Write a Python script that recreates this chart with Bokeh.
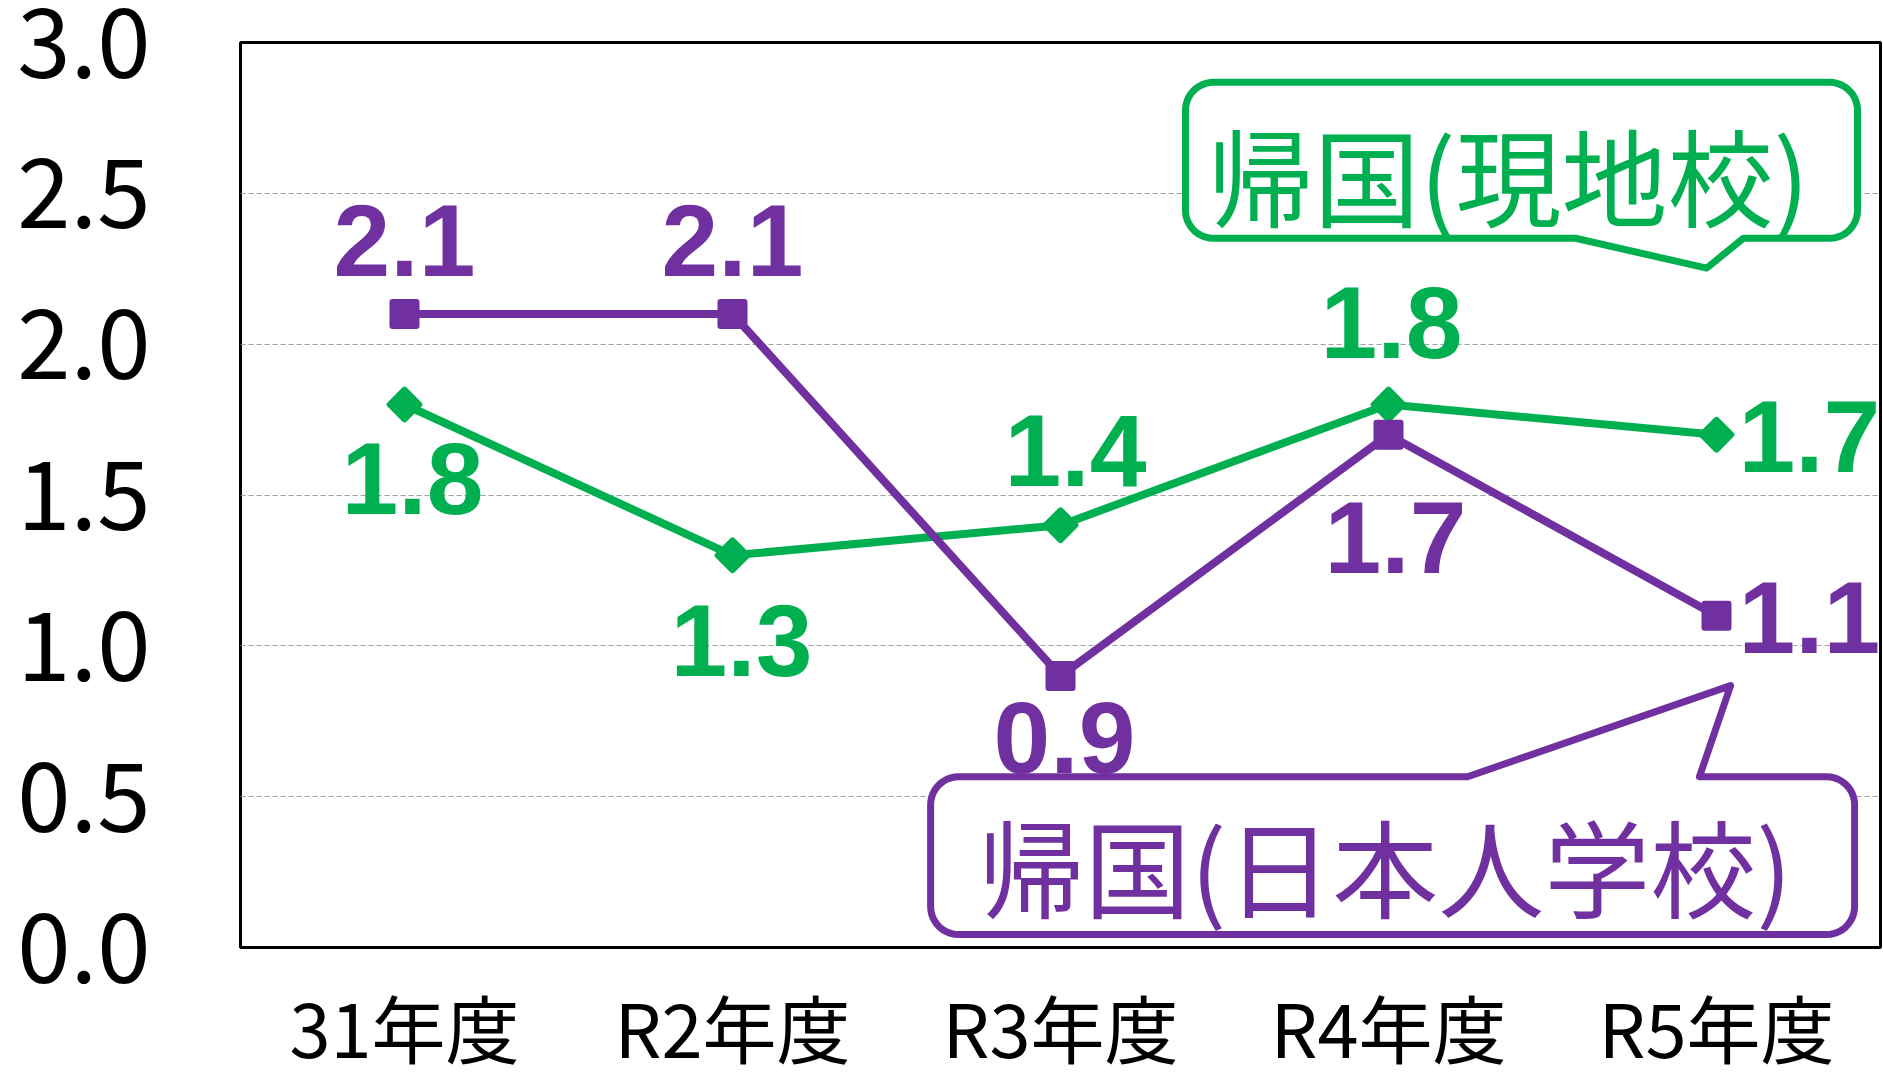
import numpy as np
from bokeh.plotting import figure
from bokeh.models import ColumnDataSource, FactorRange, Range1d, FixedTicker, PrintfTickFormatter
from bokeh.core.properties import value
from bokeh.embed import file_html
from bokeh.resources import INLINE

# ---------------- data ----------------
categories = ["31年度", "R2年度", "R3年度", "R4年度", "R5年度"]
japan_school = [2.1, 2.1, 0.9, 1.7, 1.1]   # 帰国(日本人学校)
local_school = [1.8, 1.3, 1.4, 1.8, 1.7]   # 帰国(現地校)
y_ticks = [0.0, 0.5, 1.0, 1.5, 2.0, 2.5, 3.0]
name_local = "帰国(現地校)"
name_japan = "帰国(日本人学校)"

# label placement (screen px offsets from the point, alignment)
japan_dx = [0, 0, 4, 7, 22]
japan_dy = [-74, -74, 61, 103, 2]
japan_align = ["center", "center", "center", "center", "left"]
local_dx = [8, 9, 15, 3, 22]
local_dy = [74, 85, -75, -82, 2]
local_align = ["center", "center", "center", "center", "left"]

PURPLE = "#7030A0"
GREEN = "#00B050"

W, H = 1883, 1081
ML, MR, MT, MB = 240, 3, 42, 134
FW = W - ML - MR
FH = H - MT - MB

p = figure(x_range=FactorRange(*categories), y_range=Range1d(0, 3),
           width=W, height=H, output_backend="svg", toolbar_location=None,
           min_border_left=ML, min_border_right=MR, min_border_top=MT, min_border_bottom=MB)
p.background_fill_color = "white"
p.border_fill_color = "white"
p.outline_line_color = "black"
p.outline_line_width = 3

p.xgrid.grid_line_color = None
p.ygrid.ticker = FixedTicker(ticks=y_ticks)
p.ygrid.grid_line_color = "#A0A0A0"
p.ygrid.grid_line_dash = "5 3"
p.ygrid.grid_line_width = 1.2

p.yaxis.ticker = FixedTicker(ticks=y_ticks)
p.yaxis.formatter = PrintfTickFormatter(format="%.1f")
for ax in (p.xaxis, p.yaxis):
    ax.axis_line_color = None
    ax.major_tick_line_color = None
    ax.minor_tick_line_color = None
    ax.major_label_text_font = "Noto Sans CJK JP"
    ax.major_label_text_color = "black"
p.yaxis.major_label_text_font_size = "96px"
p.yaxis.major_label_standoff = 84
p.xaxis.major_label_text_font_size = "74px"
p.xaxis.major_label_standoff = 18

# ---------------- callouts ----------------
px_x = FW / len(categories)   # px per category unit
px_y = FH / 3.0               # px per value unit


def callout(x0, x1, y0, y1, tail_a, tail_b, tip, tail_side, r=28, n=12):
    rx, ry = r / px_x, r / px_y
    xs, ys = [], []

    def arc(cx, cy, a0, a1):
        t = np.linspace(a0, a1, n)
        xs.extend(cx + rx * np.cos(t))
        ys.extend(cy + ry * np.sin(t))

    arc(x0 + rx, y1 - ry, np.pi, np.pi / 2)
    if tail_side == "top":
        xs.extend([tail_a, tip[0], tail_b]); ys.extend([y1, tip[1], y1])
    arc(x1 - rx, y1 - ry, np.pi / 2, 0)
    arc(x1 - rx, y0 + ry, 0, -np.pi / 2)
    if tail_side == "bottom":
        xs.extend([tail_b, tip[0], tail_a]); ys.extend([y0, tip[1], y0])
    arc(x0 + rx, y0 + ry, -np.pi / 2, -np.pi)
    return list(xs), list(ys)


gx, gy = callout(2.881, 4.930, 2.351, 2.868, 4.070, 4.582, (4.470, 2.252), "bottom")
pxs, pys = callout(2.104, 4.921, 0.043, 0.566, 3.741, 4.448, (4.543, 0.868), "top")

# ---------------- series ----------------
src_j = ColumnDataSource(dict(x=categories, y=japan_school,
                              t=[f"{v:.1f}" for v in japan_school],
                              dx=japan_dx, dy=japan_dy, al=japan_align))
src_l = ColumnDataSource(dict(x=categories, y=local_school,
                              t=[f"{v:.1f}" for v in local_school],
                              dx=local_dx, dy=local_dy, al=local_align))

p.line("x", "y", source=src_l, line_color=GREEN, line_width=8, line_join="round")
p.scatter("x", "y", source=src_l, marker="square", angle=np.pi / 4, size=21,
          fill_color=GREEN, line_color=GREEN, line_width=6, line_join="round")
p.line("x", "y", source=src_j, line_color=PURPLE, line_width=8, line_join="round")
p.scatter("x", "y", source=src_j, marker="square", size=24,
          fill_color=PURPLE, line_color=PURPLE, line_width=6, line_join="round")

p.patch(gx, gy, fill_color="white", line_color=GREEN, line_width=7, line_join="round")
p.patch(pxs, pys, fill_color="white", line_color=PURPLE, line_width=7, line_join="round")

p.text(x=[3.866], y=[2.566], text=[name_local], text_color=GREEN,
       text_font=value("Noto Sans CJK JP"), text_font_size="106px",
       text_align="center", text_baseline="middle")
p.text(x=[3.49], y=[0.278], text=[name_japan], text_color=PURPLE,
       text_font=value("Noto Sans CJK JP"), text_font_size="106px",
       text_align="center", text_baseline="middle")

for src, col in ((src_j, PURPLE), (src_l, GREEN)):
    p.text("x", "y", text="t", source=src, x_offset="dx", y_offset="dy",
           text_align="al", text_baseline="middle", text_color=col,
           text_font=value("Liberation Sans"), text_font_style="bold",
           text_font_size="102px")

open("out.html", "w").write(file_html(p, INLINE))
